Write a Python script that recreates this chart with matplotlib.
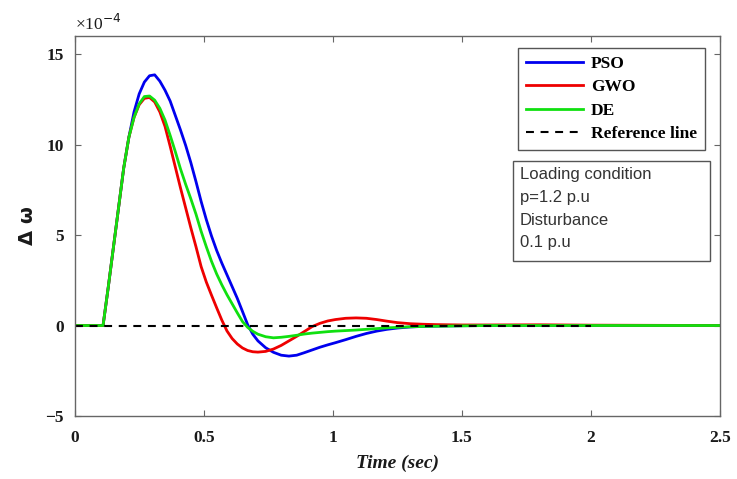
import matplotlib
matplotlib.use("Agg")
from matplotlib import pyplot as plt
from matplotlib.patches import Rectangle

# time axis (sec) and responses (units of 1e-4)
t = [0, 0.11, 0.13, 0.15, 0.17, 0.19, 0.21, 0.23, 0.25, 0.27, 0.29, 0.31, 0.33,
     0.35, 0.37, 0.39, 0.41, 0.43, 0.45, 0.47, 0.49, 0.51, 0.53, 0.55, 0.57,
     0.59, 0.61, 0.63, 0.65, 0.67, 0.69, 0.71, 0.74, 0.77, 0.80, 0.83, 0.86,
     0.89, 0.92, 0.95, 0.98, 1.01, 1.05, 1.09, 1.13, 1.17, 1.21, 1.25, 1.30,
     1.35, 1.40, 1.50, 1.60, 1.80, 2.00, 2.50]

pso = [0, 0, 2.1, 4.3, 6.5, 8.7, 10.4, 11.8, 12.8, 13.45, 13.8, 13.85, 13.5,
       13.0, 12.4, 11.6, 10.8, 9.95, 9.0, 7.95, 6.85, 5.85, 4.95, 4.15, 3.45,
       2.8, 2.15, 1.5, 0.78, 0.05, -0.48, -0.85, -1.23, -1.48, -1.64, -1.69, -1.64,
       -1.5, -1.35, -1.2, -1.07, -0.95, -0.78, -0.6, -0.44, -0.31, -0.21, -0.14, -0.08,
       -0.05, -0.03, -0.01, 0, 0, 0, 0]

gwo = [0, 0, 2.1, 4.3, 6.5, 8.7, 10.4, 11.5, 12.2, 12.55, 12.6, 12.35, 11.8,
       11.0, 9.9, 8.75, 7.6, 6.5, 5.4, 4.35, 3.25, 2.4, 1.68, 0.98, 0.3,
       -0.3, -0.72, -1.02, -1.24, -1.38, -1.45, -1.47, -1.43, -1.3, -1.1, -0.85, -0.6,
       -0.33, -0.06, 0.12, 0.25, 0.33, 0.4, 0.42, 0.4, 0.33, 0.24, 0.16, 0.1,
       0.07, 0.05, 0.03, 0.03, 0.04, 0.02, 0]

de = [0, 0, 2.1, 4.3, 6.5, 8.7, 10.4, 11.5, 12.25, 12.65, 12.68, 12.45, 12.0,
      11.35, 10.5, 9.6, 8.65, 7.8, 7.0, 6.15, 5.2, 4.35, 3.55, 2.85, 2.25,
      1.7, 1.2, 0.7, 0.22, -0.1, -0.32, -0.48, -0.62, -0.68, -0.65, -0.6, -0.54,
      -0.47, -0.42, -0.38, -0.34, -0.31, -0.28, -0.25, -0.21, -0.17, -0.13, -0.1, -0.07,
      -0.05, -0.04, -0.02, 0, 0, 0, 0]

ref_t = [0, 2.0]
ref_y = [0, 0]

xticks = [0, 0.5, 1, 1.5, 2, 2.5]
xticklabels = ['0', '0.5', '1', '1.5', '2', '2.5']
yticks = [-5, 0, 5, 10, 15]
note = 'Loading condition\np=1.2 p.u\nDisturbance\n0.1 p.u'

serif = 'Liberation Serif'
sans = 'Liberation Sans'
axcol = '#666666'
txtcol = '#1a1a1a'

fig = plt.figure(figsize=(7.37, 4.79), dpi=100)
ax = fig.add_axes([0.1013, 0.1315, 0.8757, 0.7935])

ax.plot(t, pso, color='#0000ee', lw=2, label='PSO')
ax.plot(t, gwo, color='#ee0000', lw=2, label='GWO')
ax.plot(t, de, color='#10e010', lw=2, label='DE')
ax.plot(ref_t, ref_y, color='black', lw=1.5, ls=(0, (3.8, 3.2)), label='Reference line')

ax.set_xlim(0, 2.5)
ax.set_ylim(-5, 16)
ax.set_xticks(xticks)
ax.set_xticklabels(xticklabels)
ax.set_yticks(yticks)
ax.tick_params(direction='in', length=4, color=axcol, top=True, right=True,
               labelsize=12.5)
ax.tick_params(axis='x', pad=10)
ax.tick_params(axis='y', pad=8)
for lab in ax.get_xticklabels() + ax.get_yticklabels():
    lab.set_fontfamily(serif)
    lab.set_fontweight('bold')
    lab.set_color(txtcol)
for sp in ax.spines.values():
    sp.set_color(axcol)
    sp.set_linewidth(1.0)

ax.set_xlabel('Time (sec)', fontfamily=serif, fontstyle='italic',
              fontweight='bold', fontsize=14, color=txtcol, labelpad=6)
ax.set_ylabel('\u0394 \u03c9', fontfamily='DejaVu Sans', fontsize=14,
              fontweight='bold', color=txtcol, labelpad=6)
ax.text(0.0, 1.005, '\u00d710$^{-4}$', transform=ax.transAxes, fontfamily=serif,
        fontsize=12.5, color=txtcol, ha='left', va='bottom')

leg = ax.legend(loc='upper right', bbox_to_anchor=(0.9766, 0.968),
                borderaxespad=0,
                prop={'family': serif, 'weight': 'bold', 'size': 12.5},
                handlelength=3.3, handletextpad=0.45, labelspacing=0.42,
                borderpad=0.45, fancybox=False, framealpha=1)
leg.get_frame().set_edgecolor('#555555')
leg.get_frame().set_linewidth(1.0)

# annotation box
ax.add_patch(Rectangle((0.679, 0.409), 0.305, 0.263, transform=ax.transAxes,
                       fc='white', ec='#555555', lw=1.0, zorder=5))
ax.text(0.69, 0.655, note, transform=ax.transAxes, fontfamily=sans,
        fontsize=12, color='#333333', ha='left', va='top', linespacing=1.65,
        zorder=6)

fig.savefig('out.png', dpi=100)
